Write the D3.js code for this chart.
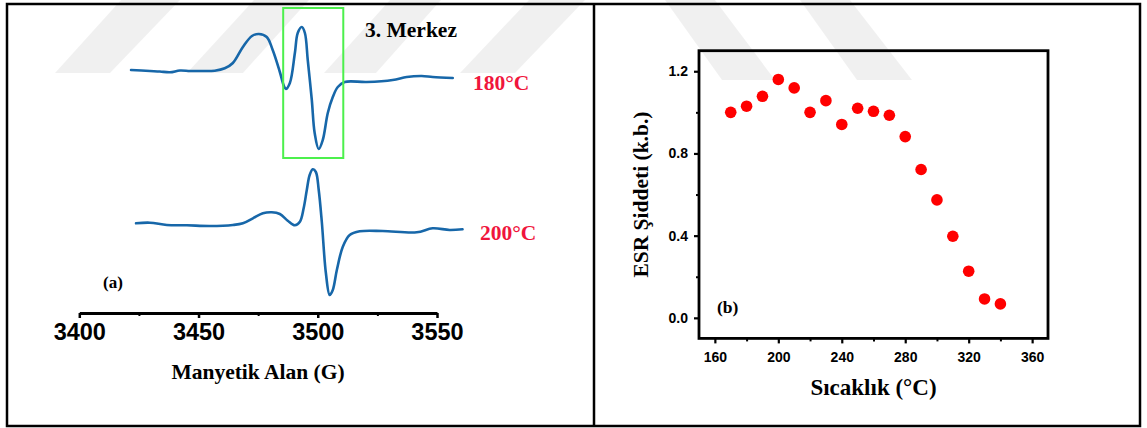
<!DOCTYPE html>
<html>
<head>
<meta charset="utf-8">
<script src="https://cdn.jsdelivr.net/npm/d3@7/dist/d3.min.js"></script>
<style>
  html, body { margin: 0; padding: 0; background: #fff; }
  svg { display: block; }
  .tick text { font-family: "Liberation Sans", Arial, sans-serif; font-weight: bold; fill: #000; }
  .serif { font-family: "Liberation Serif", "Times New Roman", serif; font-weight: bold; }
</style>
</head>
<body>
<svg id="fig" width="1147" height="428"></svg>
<script>
// ---- (a) ESR spectra: magnetic field (G) vs. derivative signal (a.u., relative to baseline)
const field180 = [3421.7, 3429.6, 3433.8, 3438.0, 3442.2, 3446.4, 3450.6, 3456.8, 3461.0, 3464.4,
  3468.6, 3472.4, 3475.3, 3478.6, 3481.1, 3484.1, 3485.8, 3486.6, 3488.3, 3490.4,
  3491.6, 3493.3, 3494.6, 3495.8, 3497.5, 3498.7, 3500.4, 3502.1, 3504.2, 3506.3,
  3508.4, 3511.3, 3520.5, 3531.4, 3537.3, 3543.6, 3548.2, 3556.6];
const signal180 = [0.10, 0.00, -0.05, -0.13, 0.05, 0.00, 0.00, 0.03, 0.27, 0.80,
  2.40, 3.50, 3.70, 3.40, 2.10, -0.10, -1.50, -1.80, -1.20, 1.80,
  3.80, 4.40, 3.80, 1.10, -2.90, -6.20, -7.80, -6.90, -4.20, -2.60,
  -1.60, -1.10, -1.10, -0.90, -0.60, -0.50, -0.60, -0.70];

const field200 = [3423.8, 3429.6, 3436.7, 3445.1, 3454.8, 3464.4, 3468.6, 3472.8, 3477.0, 3480.7,
  3484.1, 3487.4, 3490.4, 3492.5, 3494.1, 3495.4, 3496.6, 3497.9, 3499.2, 3500.4,
  3501.7, 3503.4, 3505.0, 3506.3, 3508.0, 3510.5, 3513.4, 3517.6, 3527.2, 3541.5,
  3548.2, 3555.3, 3560.7];
const signal200 = [0.17, 0.23, 0.00, -0.03, -0.10, 0.00, 0.17, 0.67, 1.17, 1.27,
  1.10, 0.43, -0.03, 0.33, 1.70, 3.50, 5.00, 5.57, 5.30, 3.50,
  0.30, -4.80, -7.00, -6.50, -4.50, -2.17, -1.00, -0.63, -0.60, -0.73,
  -0.33, -0.50, -0.43];

const spectrumLabels = ["180°C", "200°C"];
const spectrumOffsets = [24.2, 8.8];       // vertical stacking of the two traces (a.u.)
const fieldTicks = [3400, 3450, 3500, 3550];
const fieldMinorTicks = [3425, 3475, 3525];
const centreWindow = [3485.5, 3510.7];     // field range of the 3rd centre
const centreLabel = "3. Merkez";

// ---- (b) ESR intensity vs. annealing temperature
const temperatures = [170, 180, 190, 200, 210, 220, 230, 240, 250, 260, 270, 280, 290, 300, 310, 320, 330, 340];
const intensities = [1.000, 1.030, 1.078, 1.160, 1.119, 1.000, 1.057, 0.941, 1.020, 1.005,
  0.986, 0.882, 0.722, 0.574, 0.397, 0.227, 0.092, 0.068];
const tempTicks = [160, 200, 240, 280, 320, 360];
const tempMinorTicks = [180, 220, 260, 300, 340];
const intensityTicks = [0.0, 0.4, 0.8, 1.2];
const intensityMinorTicks = [0.2, 0.6, 1.0];

const svg = d3.select("#fig");

// faint diagonal background bands at the top of the sheet
const bands = svg.append("g").attr("fill", "#000").attr("fill-opacity", 0.06);
[[[55, 73], [110, 73], [180, 0], [121, 0]],
 [[187, 73], [243, 73], [309, 0], [254, 0]],
 [[324, 73], [376, 73], [441, 0], [390, 0]],
 [[460, 73], [515, 73], [585, 0], [529, 0]],
 [[665, 0], [715, 0], [775, 80], [722, 80]],
 [[800, 0], [850, 0], [912, 80], [857, 80]]
].forEach(p => bands.append("polygon").attr("points", p.map(d => d.join(",")).join(" ")));

// sheet frame with two cells
svg.append("rect").attr("x", 7).attr("y", 4).attr("width", 1133).attr("height", 422)
  .attr("fill", "none").attr("stroke", "#000").attr("stroke-width", 2.5);
svg.append("line").attr("x1", 594).attr("x2", 594).attr("y1", 4).attr("y2", 426)
  .attr("stroke", "#000").attr("stroke-width", 2.5);

// ================= panel (a) =================
const xA = d3.scaleLinear().domain([3400, 3550]).range([79.3, 437]);
const yA = d3.scaleLinear().domain([0, 30]).range([313, 13]);

const line = d3.line().curve(d3.curveCatmullRom.alpha(0.5))
  .x(d => xA(d[0])).y(d => yA(d[1]));

const spectra = [
  d3.zip(field180, signal180.map(v => v + spectrumOffsets[0])),
  d3.zip(field200, signal200.map(v => v + spectrumOffsets[1]))
];
svg.append("g").selectAll("path").data(spectra).join("path")
  .attr("d", line).attr("fill", "none")
  .attr("stroke", "#1767a9").attr("stroke-width", 2.6)
  .attr("stroke-linejoin", "round").attr("stroke-linecap", "round");

// highlighted window of the 3rd centre
svg.append("rect")
  .attr("x", xA(centreWindow[0])).attr("y", yA(30.5))
  .attr("width", xA(centreWindow[1]) - xA(centreWindow[0]))
  .attr("height", yA(15.5) - yA(30.5))
  .attr("fill", "none").attr("stroke", "#4cf04c").attr("stroke-width", 2);

svg.append("text").attr("class", "serif").attr("x", 365).attr("y", 37)
  .attr("font-size", 21.5).text(centreLabel);

svg.selectAll("text.speclab").data(spectrumLabels).join("text")
  .attr("class", "serif speclab")
  .attr("x", (d, i) => [473, 480][i]).attr("y", (d, i) => [90, 240][i])
  .attr("font-size", 21.5).attr("fill", "#f0153c").text(d => d);

svg.append("text").attr("class", "serif").attr("x", 103).attr("y", 288)
  .attr("font-size", 17).text("(a)");

// field axis
const axA = svg.append("g").attr("transform", "translate(0,313)")
  .call(d3.axisBottom(xA).tickValues(fieldTicks).tickFormat(d3.format("d"))
    .tickSize(5).tickSizeOuter(0).tickPadding(5));
axA.select(".domain").attr("stroke-width", 2.8);
axA.selectAll(".tick line").attr("stroke-width", 2.5);
axA.selectAll(".tick text").attr("font-size", 23.5);
svg.append("g").attr("transform", "translate(0,313)")
  .call(d3.axisBottom(xA).tickValues(fieldMinorTicks).tickFormat("").tickSize(3).tickSizeOuter(0))
  .call(g => g.select(".domain").remove())
  .selectAll(".tick line").attr("stroke-width", 2);

svg.append("text").attr("class", "serif").attr("x", 258).attr("y", 379)
  .attr("text-anchor", "middle").attr("font-size", 21.5).text("Manyetik Alan (G)");

// ================= panel (b) =================
const xB = d3.scaleLinear().domain([150, 370]).range([699, 1048]);
const yB = d3.scaleLinear().domain([-0.1, 1.3]).range([338.4, 50.7]);

svg.append("rect").attr("x", xB(150)).attr("y", yB(1.3))
  .attr("width", xB(370) - xB(150)).attr("height", yB(-0.1) - yB(1.3))
  .attr("fill", "none").attr("stroke", "#000").attr("stroke-width", 2.8);

const axBx = svg.append("g").attr("transform", `translate(0,${yB(-0.1)})`)
  .call(d3.axisBottom(xB).tickValues(tempTicks).tickSize(5).tickSizeOuter(0).tickPadding(9));
axBx.select(".domain").remove();
axBx.selectAll(".tick line").attr("stroke-width", 2.2);
axBx.selectAll(".tick text").attr("font-size", 14);
svg.append("g").attr("transform", `translate(0,${yB(-0.1)})`)
  .call(d3.axisBottom(xB).tickValues(tempMinorTicks).tickFormat("").tickSize(3).tickSizeOuter(0))
  .call(g => g.select(".domain").remove())
  .selectAll(".tick line").attr("stroke-width", 2);

const axBy = svg.append("g").attr("transform", `translate(${xB(150)},0)`)
  .call(d3.axisLeft(yB).tickValues(intensityTicks).tickFormat(d3.format(".1f"))
    .tickSize(5).tickSizeOuter(0).tickPadding(6));
axBy.select(".domain").remove();
axBy.selectAll(".tick line").attr("stroke-width", 2.2);
axBy.selectAll(".tick text").attr("font-size", 14);
svg.append("g").attr("transform", `translate(${xB(150)},0)`)
  .call(d3.axisLeft(yB).tickValues(intensityMinorTicks).tickFormat("").tickSize(3).tickSizeOuter(0))
  .call(g => g.select(".domain").remove())
  .selectAll(".tick line").attr("stroke-width", 2);

svg.append("g").selectAll("circle").data(d3.zip(temperatures, intensities)).join("circle")
  .attr("cx", d => xB(d[0])).attr("cy", d => yB(d[1])).attr("r", 5.8)
  .attr("fill", "#ff0000");

svg.append("text").attr("class", "serif").attr("x", 717).attr("y", 313)
  .attr("font-size", 17.5).text("(b)");

svg.append("text").attr("class", "serif")
  .attr("transform", `translate(648,${(yB(1.3) + yB(-0.1)) / 2}) rotate(-90)`)
  .attr("text-anchor", "middle").attr("font-size", 21.5).text("ESR Şiddeti (k.b.)");

svg.append("text").attr("class", "serif").attr("x", (xB(150) + xB(370)) / 2).attr("y", 395)
  .attr("text-anchor", "middle").attr("font-size", 23).text("Sıcaklık (°C)");
</script>
</body>
</html>
